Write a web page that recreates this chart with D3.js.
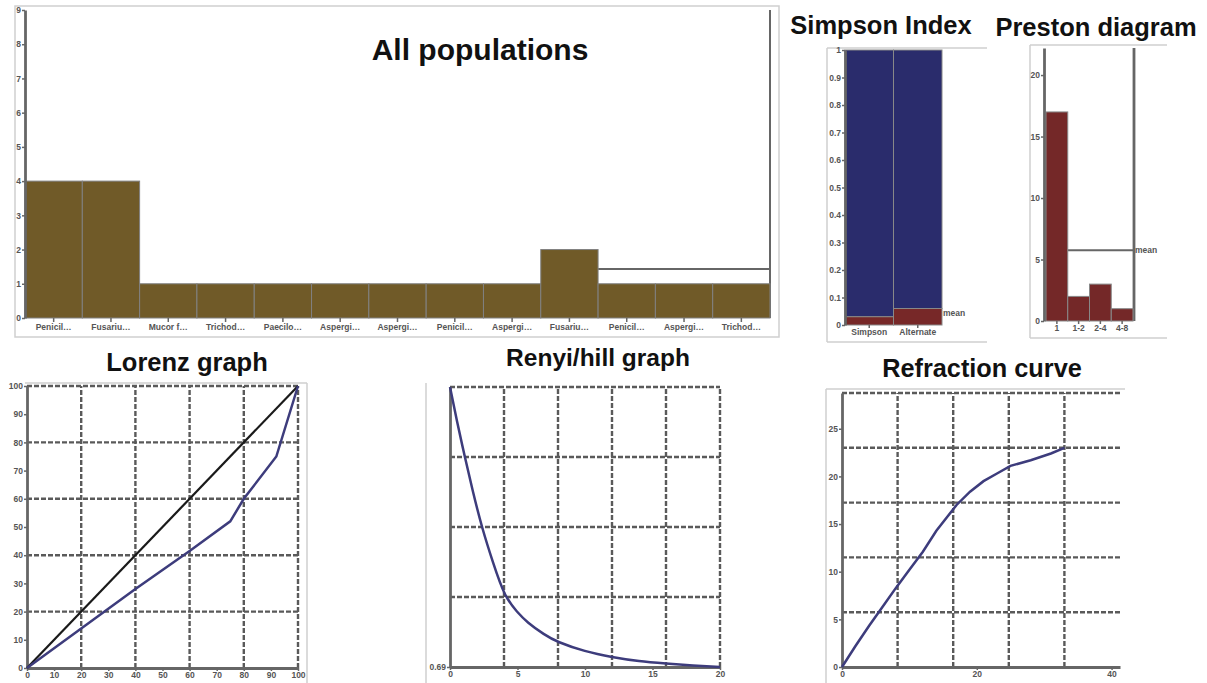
<!DOCTYPE html>
<html>
<head>
<meta charset="utf-8">
<script src="https://cdn.jsdelivr.net/npm/d3@7"></script>
<style>
body{margin:0;background:#fff;}
text{font-family:"Liberation Sans",Arial,Helvetica,sans-serif;}
</style>
</head>
<body>
<script>
//species abundance (top chart)
var speciesLabels = ["Penicil…","Fusariu…","Mucor f…","Trichod…","Paecilo…","Aspergi…","Aspergi…","Penicil…","Aspergi…","Fusariu…","Penicil…","Aspergi…","Trichod…"];
var speciesCounts = [4,4,1,1,1,1,1,1,1,2,1,1,1];
var speciesTicks = [0,1,2,3,4,5,6,7,8,9];
var speciesMean = 1.43;
var speciesMeanFrom = 10;

//simpson index
var simpsonLabels = ["Simpson","Alternate"];
var simpsonValues = [0.03,0.06];
var simpsonMean = 0.045;

//preston diagram
var prestonClasses = ["1","1-2","2-4","4-8"];
var prestonCounts = [17,2,3,1];
var prestonTicks = [0,5,10,15,20];
var prestonMean = 5.75;

//lorenz curve
var lorenzX = [0,20,40,60,75,80,92,100];
var lorenzY = [0,14,28,41.5,52,60,75,100];
var lorenzTicks = [0,10,20,30,40,50,60,70,80,90,100];
var lorenzGrid = [20,40,60,80,100];

//renyi / hill
var renyiX = [0,0.5,1.1,1.7,2.35,3.2,4.05,5,5.7,7,7.9,10,12,14,16,18,20];
var renyiY = [2.69,2.45,2.19,1.94,1.69,1.43,1.19,1.08,1.01,0.92,0.87,0.80,0.76,0.73,0.715,0.70,0.69];
var renyiXTicks = [0,5,10,15,20];
var renyiXGrid = [4,8,12,16,20];
var renyiYGrid = [1.19,1.69,2.19,2.69];

//rarefaction
var rareX = [0,2,4,6,8,10,12,14,17,19,21,23,25,28,31,33];
var rareY = [0,2.2,4.3,6.3,8.3,10.2,12.1,14.3,17,18.4,19.5,20.3,21.1,21.7,22.4,23];
var rareXTicks = [0,20,40];
var rareYTicks = [0,5,10,15,20,25];
var rareXGrid = [8.25,16.5,24.75,33];
var rareYGrid = [5.75,11.5,17.25,23,28.75];

var svg = d3.select("body").append("svg")
    .attr("width", 1207)
    .attr("height", 683);

var frameColor = "#cfcfcf",
    axisColor = "#666",
    gridColor = "#5a5a5a",
    curveColor = "#3d3c7c";

function line(x1, y1, x2, y2, color, w, dash){
    var l = svg.append("line")
        .attr("x1", x1).attr("y1", y1)
        .attr("x2", x2).attr("y2", y2)
        .attr("stroke", color)
        .attr("stroke-width", w);
    if (dash) l.attr("stroke-dasharray", dash);
    return l;
}

function gridLine(x1, y1, x2, y2){
    return line(x1, y1, x2, y2, gridColor, 2.4, "5,2");
}

function title(txt, x, y, size){
    svg.append("text")
        .attr("x", x).attr("y", y)
        .attr("text-anchor", "middle")
        .attr("font-size", size)
        .attr("font-weight", "bold")
        .attr("fill", "#111")
        .text(txt);
}

function styleAxis(g, showDomain){
    g.select(".domain")
        .attr("stroke", axisColor)
        .attr("stroke-width", 2.8)
        .attr("display", showDomain ? null : "none");
    g.selectAll(".tick line").attr("stroke", axisColor).attr("stroke-width", 1.5);
    g.selectAll(".tick text")
        .attr("font-size", 8.5)
        .attr("font-weight", "bold")
        .attr("fill", "#555");
}

function smallLabel(txt, x, y){
    svg.append("text")
        .attr("x", x).attr("y", y)
        .attr("font-size", 8.5)
        .attr("font-weight", "bold")
        .attr("fill", "#555")
        .text(txt);
}

//---------- All populations ----------
(function(){
    var x = d3.scaleBand().domain(d3.range(speciesCounts.length)).range([25, 770]);
    var y = d3.scaleLinear().domain([0, 9]).range([318, 10]);

    svg.append("rect")
        .attr("x", 15).attr("y", 6).attr("width", 764).attr("height", 331)
        .attr("fill", "none").attr("stroke", frameColor).attr("stroke-width", 1.5);

    line(770, y(9), 770, y(0), axisColor, 2);
    line(x(speciesMeanFrom), y(speciesMean), 770, y(speciesMean), axisColor, 2);

    svg.selectAll(".popBar")
        .data(speciesCounts)
        .enter()
        .append("rect")
        .attr("class", "popBar")
        .attr("x", function(d, i){ return x(i); })
        .attr("y", function(d){ return y(d); })
        .attr("width", x.bandwidth())
        .attr("height", function(d){ return y(0) - y(d); })
        .attr("fill", "#705a28")
        .attr("stroke", "#808080")
        .attr("stroke-width", 1);

    var ya = svg.append("g").attr("transform", "translate(25,0)")
        .call(d3.axisLeft(y).tickValues(speciesTicks).tickSize(3).tickSizeOuter(0).tickPadding(1));
    styleAxis(ya, true);

    var xa = svg.append("g").attr("transform", "translate(0,318)")
        .call(d3.axisBottom(x).tickSize(4).tickPadding(2).tickFormat(function(i){ return speciesLabels[i]; }));
    styleAxis(xa, false);

    title("All populations", 480, 60, 30);
})();

//---------- Simpson Index ----------
(function(){
    var x = d3.scaleBand().domain(simpsonLabels).range([845, 942]);
    var y = d3.scaleLinear().domain([0, 1]).range([325, 50]);

    line(827, 48, 827, 342, frameColor, 1.5);
    line(827, 48, 987, 48, frameColor, 1.5);
    line(827, 342, 987, 342, frameColor, 1.5);

    var g = svg.selectAll(".simp")
        .data(simpsonValues)
        .enter()
        .append("g")
        .attr("class", "simp");
    g.append("rect")
        .attr("x", function(d, i){ return x(simpsonLabels[i]); })
        .attr("y", y(1))
        .attr("width", x.bandwidth())
        .attr("height", function(d){ return y(d) - y(1); })
        .attr("fill", "#2a2c6c")
        .attr("stroke", "#888");
    g.append("rect")
        .attr("x", function(d, i){ return x(simpsonLabels[i]); })
        .attr("y", function(d){ return y(d); })
        .attr("width", x.bandwidth())
        .attr("height", function(d){ return y(0) - y(d); })
        .attr("fill", "#772828")
        .attr("stroke", "#888");

    var ya = svg.append("g").attr("transform", "translate(845,0)")
        .call(d3.axisLeft(y).ticks(10).tickFormat(d3.format("~g")).tickSize(3).tickSizeOuter(0).tickPadding(1));
    styleAxis(ya, true);
    var xa = svg.append("g").attr("transform", "translate(0,325)")
        .call(d3.axisBottom(x).tickSize(3).tickPadding(1));
    styleAxis(xa, false);

    smallLabel("mean", 943, y(simpsonMean) + 3);
    title("Simpson Index", 881, 34, 25.5);
})();

//---------- Preston diagram ----------
(function(){
    var x = d3.scaleBand().domain(prestonClasses).range([1046, 1133]);
    var y = d3.scaleLinear().domain([0, 22.2]).range([321, 48]);

    line(1030, 45, 1030, 338, frameColor, 1.5);
    line(1030, 45, 1167, 45, frameColor, 1.5);
    line(1030, 338, 1167, 338, frameColor, 1.5);

    line(1134, y(22.2), 1134, y(0), axisColor, 2.8);
    line(x(prestonClasses[0]) + x.bandwidth(), y(prestonMean), 1134, y(prestonMean), axisColor, 2);

    svg.selectAll(".prBar")
        .data(prestonCounts)
        .enter()
        .append("rect")
        .attr("class", "prBar")
        .attr("x", function(d, i){ return x(prestonClasses[i]); })
        .attr("y", function(d){ return y(d); })
        .attr("width", x.bandwidth())
        .attr("height", function(d){ return y(0) - y(d); })
        .attr("fill", "#742828")
        .attr("stroke", "#888");

    var ya = svg.append("g").attr("transform", "translate(1044,0)")
        .call(d3.axisLeft(y).tickValues(prestonTicks).tickSize(3).tickSizeOuter(0).tickPadding(1));
    styleAxis(ya, true);
    var xa = svg.append("g").attr("transform", "translate(0,321)")
        .call(d3.axisBottom(x).tickSize(3).tickPadding(1));
    styleAxis(xa, false);

    smallLabel("mean", 1135, y(prestonMean) + 3);
    title("Preston diagram", 1096, 36, 25.5);
})();

//---------- Lorenz graph ----------
(function(){
    var x = d3.scaleLinear().domain([0, 100]).range([27, 298]);
    var y = d3.scaleLinear().domain([0, 100]).range([668, 386]);

    line(25, 383, 307, 383, frameColor, 1.5);
    line(307, 383, 307, 683, frameColor, 1.5);

    lorenzGrid.forEach(function(v){
        gridLine(x(v), y(0), x(v), y(100));
        gridLine(x(0), y(v), x(100), y(v));
    });

    var ya = svg.append("g").attr("transform", "translate(27,0)")
        .call(d3.axisLeft(y).tickValues(lorenzTicks).tickSize(3).tickSizeOuter(0).tickPadding(1));
    styleAxis(ya, true);
    var xa = svg.append("g").attr("transform", "translate(0,668)")
        .call(d3.axisBottom(x).tickValues(lorenzTicks).tickSize(3).tickSizeOuter(0).tickPadding(1));
    styleAxis(xa, true);

    var pts = lorenzX.map(function(v, i){ return [v, lorenzY[i]]; });
    var path = d3.line().x(function(d){ return x(d[0]); }).y(function(d){ return y(d[1]); });

    svg.append("path").datum([[0, 0], [100, 100]])
        .attr("d", path).attr("fill", "none").attr("stroke", "#1a1a1a").attr("stroke-width", 2.2);
    svg.append("path").datum(pts)
        .attr("d", path).attr("fill", "none").attr("stroke", curveColor).attr("stroke-width", 2.5);

    title("Lorenz graph", 187, 371, 25.5);
})();

//---------- Renyi/hill graph ----------
(function(){
    var x = d3.scaleLinear().domain([0, 20]).range([450, 720]);
    var y = d3.scaleLinear().domain([0.69, 2.69]).range([667, 387]);

    line(426, 383, 426, 683, frameColor, 1.5);

    renyiXGrid.forEach(function(v){
        gridLine(x(v), y(0.69), x(v), y(2.69));
    });
    renyiYGrid.forEach(function(v){
        gridLine(x(0), y(v), x(20), y(v));
    });

    var ya = svg.append("g").attr("transform", "translate(450,0)")
        .call(d3.axisLeft(y).tickValues([0.69]).tickFormat(d3.format(".2f")).tickSize(3).tickSizeOuter(0).tickPadding(1));
    styleAxis(ya, true);
    var xa = svg.append("g").attr("transform", "translate(0,667)")
        .call(d3.axisBottom(x).tickValues(renyiXTicks).tickSize(3).tickSizeOuter(0).tickPadding(1));
    styleAxis(xa, true);

    var pts = renyiX.map(function(v, i){ return [v, renyiY[i]]; });
    svg.append("path").datum(pts)
        .attr("d", d3.line().curve(d3.curveBasis).x(function(d){ return x(d[0]); }).y(function(d){ return y(d[1]); }))
        .attr("fill", "none").attr("stroke", curveColor).attr("stroke-width", 2.5);

    title("Renyi/hill graph", 598, 366, 24.5);
})();

//---------- Refraction curve ----------
(function(){
    var x = d3.scaleLinear().domain([0, 41.25]).range([842, 1120]);
    var y = d3.scaleLinear().domain([0, 28.75]).range([667, 393]);

    line(826, 389, 826, 683, frameColor, 1.5);
    line(826, 389, 1125, 389, frameColor, 1.5);

    rareXGrid.forEach(function(v){
        gridLine(x(v), y(0), x(v), y(28.75));
    });
    rareYGrid.forEach(function(v){
        gridLine(x(0), y(v), x(41.25), y(v));
    });

    var ya = svg.append("g").attr("transform", "translate(842,0)")
        .call(d3.axisLeft(y).tickValues(rareYTicks).tickSize(3).tickSizeOuter(0).tickPadding(1));
    styleAxis(ya, true);
    var xa = svg.append("g").attr("transform", "translate(0,667)")
        .call(d3.axisBottom(x).tickValues(rareXTicks).tickSize(3).tickSizeOuter(0).tickPadding(1));
    styleAxis(xa, true);

    var pts = rareX.map(function(v, i){ return [v, rareY[i]]; });
    svg.append("path").datum(pts)
        .attr("d", d3.line().x(function(d){ return x(d[0]); }).y(function(d){ return y(d[1]); }))
        .attr("fill", "none").attr("stroke", curveColor).attr("stroke-width", 2.5);

    title("Refraction curve", 982, 377, 25.3);
})();
</script>
</body>
</html>
